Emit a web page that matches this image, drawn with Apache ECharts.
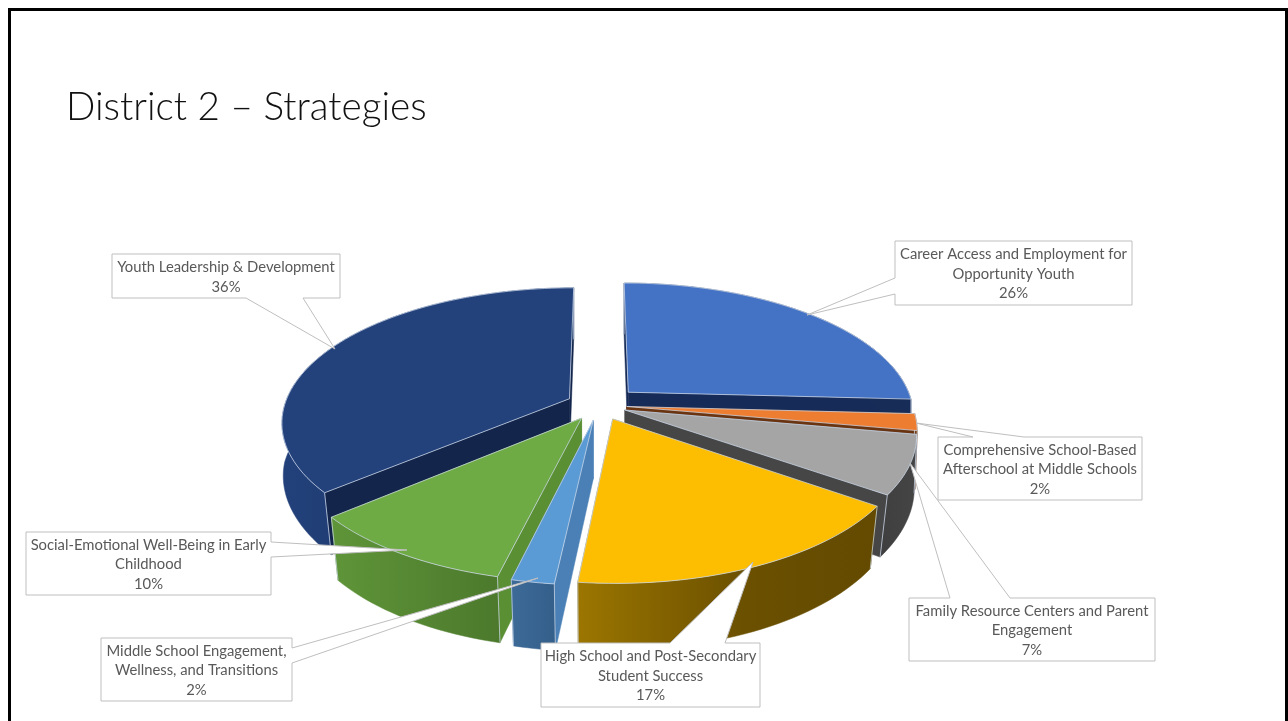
<!DOCTYPE html>
<html>
<head>
<meta charset="utf-8">
<style>html,body{margin:0;padding:0;background:#fff}#c{width:1288px;height:721px}</style>
<script src="https://cdn.jsdelivr.net/npm/echarts@6/dist/echarts.min.js"></script>
</head>
<body>
<div id="c"></div>
<script>
// ---- data ----
const categories = [
  'Career Access and Employment for\nOpportunity Youth',
  'Comprehensive School-Based\nAfterschool at Middle Schools',
  'Family Resource Centers and Parent\nEngagement',
  'High School and Post-Secondary\nStudent Success',
  'Middle School Engagement,\nWellness, and Transitions',
  'Social-Emotional Well-Being in Early\nChildhood',
  'Youth Leadership & Development'
];
const values = [26, 2, 7, 17, 2, 10, 36];

// ---- styles ----
const topColors  = ['#4472c4','#ed7d31','#a5a5a5','#fdbd00','#5b9bd5','#6fab45','#23417a'];
const rimColors  = [['#172c56','#172c56'],['#7a3d10','#7a3d10'],['#3f3f3f','#454545'],['#9c7600','#6b5000','#634a00'],['#3d6a97','#345f8b'],['#5f9539','#4c792c'],['#22407a','#1b3560']];
const faceColors = ['#162b57','#6b3410','#464646','#6b5000','#4a80b5','#5a8f34','#13254a'];
const paintOrder = [0,6,1,2,5,3,4];
const explodeBy  = [1.25,0.85,0.85,1,1,1,1];

// ---- pie projection ----
const cx=599, cy=405, R=285, Ry=131.5, persp=0.168, explode=0.115, viewWarp=1*Math.PI/180;
const total = values.reduce((a,b)=>a+b,0);
function proj(X,V){const s=1/(1+persp*V);return [cx+X*R*s, cy-V*Ry*s];}
function lower(p){
  const inset=0.025*Math.max(0,Math.min(1,(p[1]-cy)/90));
  return [p[0]-(p[0]-cx)*inset, p[1]+57.5+0.05*(p[1]-cy)];
}
function warp(a){return a-viewWarp*(1-Math.cos(a))/2;}

function renderSlice(params,api){
  const i=params.dataIndex, v=api.value(0);
  let before=0; for(let k=0;k<i;k++) before+=values[k];
  const a0=warp(before/total*2*Math.PI), a1=warp((before+v)/total*2*Math.PI), m=(a0+a1)/2;
  const e=explode*explodeBy[i], ox=Math.sin(m)*e, oz=Math.cos(m)*e;
  const apex=proj(ox,oz), arc=[];
  const n=Math.max(6,Math.ceil((a1-a0)/0.03));
  for(let k=0;k<=n;k++){const a=a0+(a1-a0)*k/n;arc.push(proj(ox+Math.sin(a),oz+Math.cos(a)));}
  const apexB=lower(apex), arcB=arc.map(lower);
  const base=paintOrder.indexOf(i)*10+10, edge='rgba(205,218,235,0.75)';
  const poly=(pts,fill,z,stroke)=>({type:'polygon',z2:base+z,shape:{points:pts},
    style:{fill:fill,stroke:stroke||fill,lineWidth:stroke?1:0.5}});
  const line=(p,q,z)=>({type:'line',z2:base+z,shape:{x1:p[0],y1:p[1],x2:q[0],y2:q[1]},style:{stroke:edge,lineWidth:1,fill:null}});
  const last=arc.length-1;
  const rc=rimColors[i];
  const stops=rc.map((c,k)=>({offset:rc.length===3?[0,0.55,1][k]:k,color:c}));
  return {type:'group',children:[
    poly([apex,arc[0],arcB[0],apexB],faceColors[i],0),
    poly([apex,arc[last],arcB[last],apexB],faceColors[i],1),
    poly(arc.concat(arcB.slice().reverse()),new echarts.graphic.LinearGradient(0,0,1,0,stops),2),
    line(arc[0],arcB[0],3), line(arc[last],arcB[last],3),
    poly([apex].concat(arc),topColors[i],4,edge)
  ]};
}

// ---- callouts (box, wedge outline, in category order) ----
const boxes = [
  {x:895,y:241,w:237,h:64, pts:[[895,241],[1132,241],[1132,305],[895,305],[895,294],[807,315],[895,278]]},
  {x:938,y:437,w:204,h:63, pts:[[938,437],[973,437],[916,423],[1024,437],[1142,437],[1142,500],[938,500]]},
  {x:909,y:598,w:246,h:63, pts:[[909,598],[950,598],[910,463],[1010,598],[1155,598],[1155,661],[909,661]]},
  {x:541,y:643,w:219,h:64, pts:[[541,643],[670,643],[753,562],[725,643],[760,643],[760,707],[541,707]]},
  {x:101,y:638,w:191,h:63, pts:[[101,638],[292,638],[292,648],[538,578],[292,663],[292,701],[101,701]]},
  {x:26,y:532,w:245,h:63,  pts:[[26,532],[271,532],[271,542],[407,550],[271,557],[271,595],[26,595]]},
  {x:112,y:254,w:228,h:44, pts:[[112,254],[340,254],[340,298],[303,298],[335,349],[246,298],[112,298]]}
];

function renderCallout(params,api){
  const i=params.dataIndex, b=boxes[i];
  return {type:'group',children:[
    {type:'polygon',z2:200,shape:{points:b.pts},style:{fill:'#fff',stroke:'#bfbfbf',lineWidth:1}},
    {type:'text',z2:201,style:{x:b.x+b.w/2,y:b.y+b.h/2+1,text:categories[i]+'\n'+api.value(0)+'%',
      fill:'#595959',font:'14.8px Lato',align:'center',verticalAlign:'middle',lineHeight:19.5}}
  ]};
}

const chart=echarts.init(document.getElementById('c'),null,{renderer:'canvas'});
chart.setOption({
  animation:false,
  backgroundColor:'#fff',
  title:{text:'District 2 – Strategies',left:61,top:83,textStyle:{fontFamily:'Lato',fontWeight:300,fontSize:38.7,color:'#111'}},
  graphic:[
    {type:'polyline',shape:{points:[[9.5,721],[9.5,9.5],[1286.5,9.5],[1286.5,721]]},style:{stroke:'#000',lineWidth:3,fill:null}}
  ],
  series:[
    {type:'custom',coordinateSystem:'none',renderItem:renderSlice,data:values.map(v=>[v]),silent:true,z:2},
    {type:'custom',coordinateSystem:'none',renderItem:renderCallout,data:values.map(v=>[v]),silent:true,z:3}
  ]
});
</script>
</body>
</html>
